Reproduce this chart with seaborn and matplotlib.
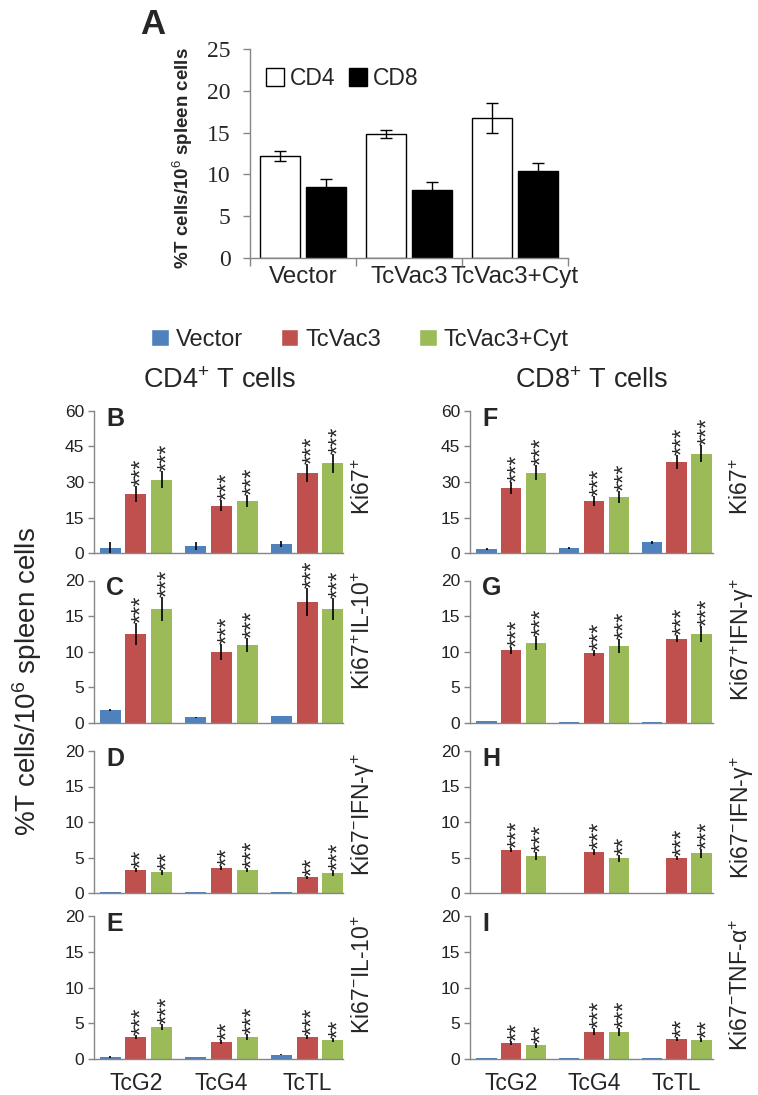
import numpy as np
import pandas as pd
import matplotlib
matplotlib.use("Agg")
import matplotlib.pyplot as plt
import seaborn as sns
from matplotlib.patches import Patch

sns.set_style("ticks")
plt.rcParams['font.family'] = ['Liberation Sans', 'DejaVu Sans']
plt.rcParams['mathtext.fontset'] = 'custom'
plt.rcParams['mathtext.rm'] = 'Liberation Sans'
plt.rcParams['mathtext.it'] = 'Liberation Sans:italic'
plt.rcParams['mathtext.bf'] = 'Liberation Sans:bold'

# --- panel A data ---
a_groups = ['Vector', 'TcVac3', 'TcVac3+Cyt']
a_cd4 = [12.2, 14.8, 16.8]
a_cd4_err = [0.6, 0.5, 1.8]
a_cd8 = [8.5, 8.1, 10.4]
a_cd8_err = [1.0, 1.0, 1.0]

# --- panels B-I data (rows: Vector, TcVac3, TcVac3+Cyt; cols: TcG2, TcG4, TcTL) ---
strains = ['TcG2', 'TcG4', 'TcTL']
groups = ['Vector', 'TcVac3', 'TcVac3+Cyt']
colors = ['#4F81BD', '#C0504D', '#9BBB59']

b_mean = [[2.0, 3.0, 3.8], [25.0, 20.0, 34.0], [31.0, 22.0, 38.0]]
b_err = [[2.5, 1.8, 1.3], [3.5, 2.2, 3.8], [3.5, 2.5, 4.0]]
b_stars = [['', '', ''], ['***', '***', '***'], ['***', '***', '***']]

c_mean = [[1.8, 0.8, 1.0], [12.5, 10.0, 17.0], [16.0, 11.0, 16.0]]
c_err = [[0.15, 0.1, 0.0], [1.6, 1.1, 2.0], [1.7, 1.0, 1.6]]
c_stars = [['', '', ''], ['***', '***', '***'], ['***', '***', '***']]

d_mean = [[0.1, 0.1, 0.1], [3.2, 3.5, 2.2], [2.9, 3.2, 2.8]]
d_err = [[0.0, 0.0, 0.0], [0.3, 0.3, 0.2], [0.3, 0.3, 0.4]]
d_stars = [['', '', ''], ['**', '**', '**'], ['**', '***', '***']]

e_mean = [[0.3, 0.3, 0.6], [3.1, 2.4, 3.1], [4.5, 3.1, 2.7]]
e_err = [[0.1, 0.0, 0.1], [0.3, 0.3, 0.3], [0.4, 0.4, 0.3]]
e_stars = [['', '', ''], ['***', '**', '***'], ['***', '***', '**']]

f_mean = [[1.8, 2.3, 4.5], [27.5, 22.0, 38.5], [34.0, 23.5, 42.0]]
f_err = [[0.5, 0.4, 0.5], [2.5, 2.0, 3.0], [3.0, 2.5, 3.5]]
f_stars = [['', '', ''], ['***', '***', '***'], ['***', '***', '***']]

g_mean = [[0.3, 0.1, 0.1], [10.2, 9.8, 11.8], [11.2, 10.8, 12.5]]
g_err = [[0.05, 0.0, 0.0], [0.5, 0.4, 0.5], [1.0, 1.0, 1.1]]
g_stars = [['', '', ''], ['***', '***', '***'], ['***', '***', '***']]

h_mean = [[0.05, 0.05, 0.05], [6.1, 5.8, 4.9], [5.2, 4.9, 5.6]]
h_err = [[0.0, 0.0, 0.0], [0.3, 0.4, 0.3], [0.6, 0.5, 0.6]]
h_stars = [['', '', ''], ['***', '***', '***'], ['***', '**', '***']]

i_mean = [[0.1, 0.1, 0.1], [2.2, 3.8, 2.8], [1.9, 3.8, 2.7]]
i_err = [[0.0, 0.0, 0.0], [0.3, 0.5, 0.3], [0.3, 0.6, 0.3]]
i_stars = [['', '', ''], ['**', '***', '**'], ['**', '***', '**']]

big_ticks = [0, 15, 30, 45, 60]
small_ticks = [0, 5, 10, 15, 20]

W, H = 758, 1095
fig = plt.figure(figsize=(W / 100, H / 100), dpi=100)
GRAY = '#868686'


def px_axes(left, top, right, bottom):
    return fig.add_axes([left / W, 1 - bottom / H, (right - left) / W, (bottom - top) / H])


def style_spines(ax):
    sns.despine(ax=ax)
    for s in ['left', 'bottom']:
        ax.spines[s].set_color(GRAY)
        ax.spines[s].set_linewidth(1)


# ---------------- Panel A ----------------
ax_a = px_axes(250, 49, 568, 258)
df_a = pd.DataFrame({'group': a_groups * 2,
                     'cell': ['CD4'] * 3 + ['CD8'] * 3,
                     'value': a_cd4 + a_cd8})
sns.barplot(df_a, x='group', y='value', hue='cell', order=a_groups, hue_order=['CD4', 'CD8'],
            palette={'CD4': 'white', 'CD8': 'black'}, edgecolor='black', linewidth=1,
            width=0.86, gap=0.13, errorbar=None, legend=False, ax=ax_a)
bar_conts = list(ax_a.containers)
for cont, errs in zip(bar_conts, [a_cd4_err, a_cd8_err]):
    xs = [b.get_x() + b.get_width() / 2 for b in cont]
    ys = [b.get_height() for b in cont]
    ax_a.errorbar(xs, ys, yerr=errs, fmt='none', ecolor='black', elinewidth=1, capsize=4, capthick=1)
ax_a.set_xlim(-0.5, 2.5)
ax_a.set_ylim(0, 25)
ax_a.set_yticks([0, 5, 10, 15, 20, 25])
ax_a.set_yticklabels(['0', '5', '10', '15', '20', '25'], family='Liberation Serif', fontsize=17)
ax_a.set_xticks([0, 1, 2])
ax_a.set_xticklabels(a_groups, fontsize=17.5)
ax_a.set_xticks([-0.5, 0.5, 1.5, 2.5], minor=True)
ax_a.tick_params(axis='x', which='major', length=0, pad=6)
ax_a.tick_params(axis='x', which='minor', length=6, color=GRAY, width=1)
ax_a.tick_params(axis='y', length=5, color=GRAY, width=1, pad=9)
ax_a.set_xlabel('')
ax_a.set_ylabel('')
style_spines(ax_a)
ax_a.legend(handles=[Patch(facecolor='white', edgecolor='black', label='CD4'),
                     Patch(facecolor='black', edgecolor='black', label='CD8')],
            loc='center left', bbox_to_anchor=(0.02, 0.86), ncol=2, frameon=False,
            fontsize=16.5, handlelength=0.8, handleheight=0.8, handletextpad=0.25,
            columnspacing=0.6, borderaxespad=0)
fig.text(183 / W, 1 - 158 / H, '%T cells/10$^{6}$ spleen cells', rotation=90,
         ha='center', va='center', fontsize=13.5, fontweight='bold')
fig.text(140 / W, 1 - 25 / H, 'A', fontsize=25, fontweight='bold', ha='left', va='center')

# ---------------- Legend / titles ----------------
fig.legend(handles=[Patch(facecolor=c, label=g) for c, g in zip(colors, groups)],
           loc='center', bbox_to_anchor=(360 / W, 1 - 340 / H), ncol=3, frameon=False,
           fontsize=17, handlelength=0.75, handleheight=0.75, handletextpad=0.3,
           columnspacing=1.6)
fig.text(220 / W, 1 - 381 / H, 'CD4$^{+}$ T cells', ha='center', va='center', fontsize=19.5)
fig.text(592 / W, 1 - 381 / H, 'CD8$^{+}$ T cells', ha='center', va='center', fontsize=19.5)
fig.text(27 / W, 1 - 682 / H, '%T cells/10$^{6}$ spleen cells', rotation=90,
         ha='center', va='center', fontsize=20)

# ---------------- Panels B-I ----------------
rows_px = [(411, 553), (580.5, 723), (751, 893), (916, 1059)]
cols_px = [(94, 343), (470, 713)]
col_xlim = [(-0.49, 2.42), (-0.5, 2.44)]
side_x = [363, 742]

panels = [
    [('B', b_mean, b_err, b_stars, 60, big_ticks, 'Ki67$^{+}$', 487),
     ('C', c_mean, c_err, c_stars, 20, small_ticks, 'Ki67$^{+}$IL-10$^{+}$', 631),
     ('D', d_mean, d_err, d_stars, 20, small_ticks, 'Ki67$^{-}$IFN-γ$^{+}$', 815),
     ('E', e_mean, e_err, e_stars, 20, small_ticks, 'Ki67$^{-}$IL-10$^{+}$', 975)],
    [('F', f_mean, f_err, f_stars, 60, big_ticks, 'Ki67$^{+}$', 487),
     ('G', g_mean, g_err, g_stars, 20, small_ticks, 'Ki67$^{+}$IFN-γ$^{+}$', 640),
     ('H', h_mean, h_err, h_stars, 20, small_ticks, 'Ki67$^{-}$IFN-γ$^{+}$', 818),
     ('I', i_mean, i_err, i_stars, 20, small_ticks, 'Ki67$^{-}$TNF-α$^{+}$', 985)],
]

for ci, col in enumerate(panels):
    for ri, (letter, mean, err, stars, ymax, ticks, side, side_y) in enumerate(col):
        top, bottom = rows_px[ri]
        left, right = cols_px[ci]
        ax = px_axes(left, top, right, bottom)
        df = pd.DataFrame({'strain': strains * 3,
                           'group': np.repeat(groups, 3),
                           'value': np.array(mean).ravel()})
        sns.barplot(df, x='strain', y='value', hue='group', order=strains, hue_order=groups,
                    palette=colors, width=0.9, gap=0.18, errorbar=None, legend=False,
                    linewidth=0, saturation=1, ax=ax)
        bar_conts = list(ax.containers)
        for gi, cont in enumerate(bar_conts):
            xs = [b.get_x() + b.get_width() / 2 for b in cont]
            ys = [b.get_height() for b in cont]
            ax.errorbar(xs, ys, yerr=err[gi], fmt='none', ecolor='black', elinewidth=1.2,
                        capsize=0, zorder=3)
            for si in range(3):
                s = stars[gi][si]
                if s:
                    ax.annotate(s, xy=(xs[si], ys[si] + err[gi][si]), xytext=(4.6, 0),
                                textcoords='offset points', rotation=90, ha='center',
                                va='bottom', fontsize=17, annotation_clip=False)
        ax.set_xlim(*col_xlim[ci])
        ax.set_ylim(0, ymax)
        ax.set_yticks(ticks)
        ax.tick_params(axis='y', length=4, color=GRAY, width=1, pad=3, labelsize=12.5,
                       labelcolor='#222222')
        ax.tick_params(axis='x', length=0, pad=9, labelsize=16.5)
        if ri < 3:
            ax.set_xticklabels([])
        ax.set_xlabel('')
        ax.set_ylabel('')
        style_spines(ax)
        ax.text(0.05, 1.03, letter, transform=ax.transAxes, fontsize=18, fontweight='bold',
                ha='left', va='top')
        fig.text(side_x[ci] / W, 1 - side_y / H, side, rotation=90, ha='center', va='center',
                 fontsize=16.5)

fig.savefig("out.png", dpi=100)
